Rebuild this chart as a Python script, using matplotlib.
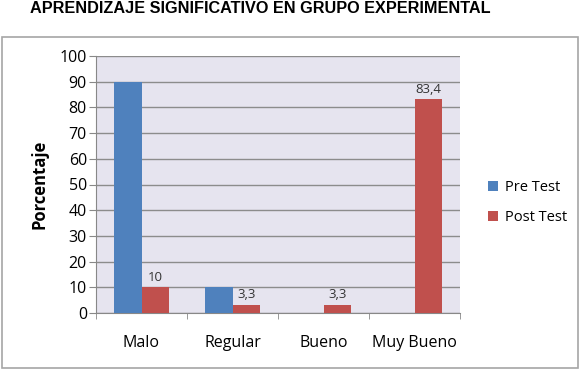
import matplotlib.pyplot as plt
import numpy as np
from matplotlib.patches import Rectangle

categories = ['Malo', 'Regular', 'Bueno', 'Muy Bueno']
pre_test = [90, 10, 0, 0]
post_test = [10, 3.3, 3.3, 83.4]
post_labels = ['10', '3,3', '3,3', '83,4']
yticks = list(range(0, 101, 10))

W, H = 583, 380
fig = plt.figure(figsize=(W / 100, H / 100), dpi=100)
fig.patch.set_facecolor('white')

# outer chart frame
fig.patches.append(Rectangle((2 / W, 1 - 368 / H), 576 / W, 331 / H,
                             transform=fig.transFigure, fill=False,
                             edgecolor='#a6a6a6', linewidth=1.2))

# title at the very top
fig.text(260 / W, 1 - 1 / H, 'APRENDIZAJE SIGNIFICATIVO EN GRUPO EXPERIMENTAL',
         ha='center', va='top', fontsize=11.7, fontweight='bold',
         family='Liberation Sans')

ax = fig.add_axes([96 / W, 1 - 313 / H, 364 / W, 257 / H])
ax.set_facecolor('#e6e4ef')

x = np.arange(len(categories))
w = 0.3
ax.bar(x - w / 2, pre_test, w, color='#4f81bd', label='Pre Test', zorder=3)
ax.bar(x + w / 2, post_test, w, color='#c0504d', label='Post Test', zorder=3)

for xi, v, lab in zip(x, post_test, post_labels):
    ax.text(xi + w / 2, v + 1.2, lab, ha='center', va='bottom',
            fontsize=9.5, color='#333333', family='Open Sans')

ax.set_xlim(-0.5, len(categories) - 0.5)
ax.set_ylim(0, 100)
ax.set_yticks(yticks)
ax.set_xticks(x)
ax.set_xticklabels(categories, family='Open Sans', fontsize=11.5)
ax.set_xticks(np.arange(-0.5, len(categories), 1), minor=True)
ax.tick_params(axis='x', which='major', length=0, pad=16)
ax.tick_params(axis='x', which='minor', length=4, color='#888888')
ax.tick_params(axis='y', length=5, color='#888888', labelsize=11.5, pad=1.5)
for t in ax.get_yticklabels():
    t.set_family('Open Sans')

ax.grid(axis='y', color='#8c8c8c', linewidth=1, zorder=0)
for s in ['top', 'right']:
    ax.spines[s].set_visible(False)
for s in ['left', 'bottom']:
    ax.spines[s].set_color('#888888')

ax.set_ylabel('Porcentaje', fontsize=12, fontweight='bold', family='Open Sans',
              labelpad=8)

ax.legend(loc='center left', bbox_to_anchor=(1.04, 0.43), frameon=False,
          prop={'family': 'Open Sans', 'size': 10.5}, handlelength=0.7,
          handleheight=0.7, handletextpad=0.5, labelspacing=1.0)

fig.savefig('out.png', dpi=100)
